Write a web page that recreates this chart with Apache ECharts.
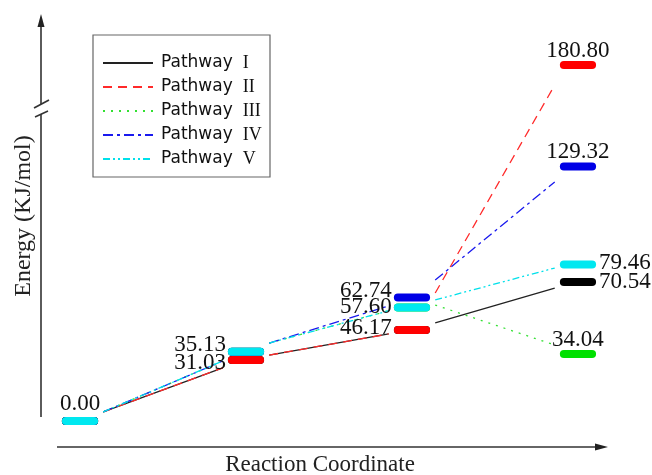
<!DOCTYPE html>
<html>
<head>
    <meta charset="utf-8">
    <script src="https://cdn.jsdelivr.net/npm/echarts@6/dist/echarts.min.js"></script>
    <style>
        html, body { margin: 0; padding: 0; background: #fff; }
        #main { width: 652px; height: 475px; }
    </style>
</head>
<body>
    <div id="main"></div>
    <script>
        // reaction stages (x positions)
        var stages = [0, 1, 2, 3];

        // energy levels of each pathway (KJ/mol)
        var energyI = [0.00, 31.03, 46.17, 70.54];
        var energyII = [0.00, 31.03, 46.17, 180.80];
        var energyIII = [0.00, 35.13, 57.60, 34.04];
        var energyIV = [0.00, 35.13, 62.74, 129.32];
        var energyV = [0.00, 35.13, 57.60, 79.46];

        // connecting lines, [start, end] energy of each step as drawn
        var linkI = [[4.6, 27.0], [33.5, 44.2], [49.8, 67.5]];
        var linkII = [[4.6, 27.0], [33.5, 44.2], [65.0, 170.6]];
        var linkIII = [[4.6, 30.5], [39.6, 56.0], [58.9, 38.6]];
        var linkIV = [[4.6, 30.5], [39.6, 58.5], [71.6, 121.4]];
        var linkV = [[4.6, 30.5], [39.6, 56.0], [61.5, 77.7]];

        var names = ['Pathway I', 'Pathway II', 'Pathway III', 'Pathway IV', 'Pathway V'];
        var numerals = ['I', 'II', 'III', 'IV', 'V'];

        // where each level's number is written: [side, vertical shift px]
        var labI = [null, null, null, ['right', 0]];
        var labII = [null, ['left', 3], ['left', -2], ['top', -14]];
        var labIII = [null, null, null, ['top', -14]];
        var labIV = [null, null, ['left', -7], ['top', -14]];
        var labV = [['top', -17], ['left', -6.5], ['left', -1], ['right', -2]];

        var HW = 0.085;   // half width of a level bar (x units)
        var GAP = 0.14;   // distance of link ends from stage centre

        var paths = [
            { energy: energyI, link: linkI, lab: labI, bar: '#000000', line: '#222222', dash: 'solid' },
            { energy: energyII, link: linkII, lab: labII, bar: '#ff0000', line: '#ff2a2a', dash: [9, 6] },
            { energy: energyIII, link: linkIII, lab: labIII, bar: '#00e000', line: '#33e033', dash: [2, 6] },
            { energy: energyIV, link: linkIV, lab: labIV, bar: '#0000e6', line: '#1a1aee', dash: [10, 4, 3, 4] },
            { energy: energyV, link: linkV, lab: labV, bar: '#00e8f0', line: '#00e0ea', dash: [7, 3, 2, 3, 2, 3] }
        ];

        function renderLevel(color, labels) {
            return function (params, api) {
                var s = api.value(0), v = api.value(1);
                var a = api.coord([s - HW, v]), b = api.coord([s + HW, v]);
                var kids = [{
                    type: 'line',
                    shape: { x1: a[0], y1: a[1], x2: b[0], y2: b[1] },
                    style: { stroke: color, lineWidth: 8, lineCap: 'round' }
                }];
                var lab = labels[params.dataIndex];
                if (lab) {
                    var x, align;
                    if (lab[0] === 'left') { x = a[0] - 6; align = 'right'; }
                    else if (lab[0] === 'right') { x = b[0] + 7; align = 'left'; }
                    else { x = (a[0] + b[0]) / 2; align = 'center'; }
                    kids.push({
                        type: 'text',
                        x: x,
                        y: a[1] + lab[1],
                        style: {
                            text: v.toFixed(2),
                            fontFamily: 'Liberation Serif',
                            fontSize: 23,
                            fill: '#111',
                            align: align,
                            verticalAlign: 'middle'
                        }
                    });
                }
                return { type: 'group', children: kids };
            };
        }

        var series = [];
        paths.forEach(function (p, i) {
            var data = [];
            p.link.forEach(function (seg, k) {
                if (k > 0) data.push([stages[k], '-']);
                data.push([stages[k] + GAP, seg[0]]);
                data.push([stages[k + 1] - GAP, seg[1]]);
            });
            series.push({
                name: names[i],
                type: 'line',
                data: data,
                symbol: 'none',
                connectNulls: false,
                lineStyle: { color: p.line, width: 1.3, type: p.dash },
                itemStyle: { color: p.line },
                z: 2
            });
        });
        paths.forEach(function (p, i) {
            series.push({
                name: names[i] + ' level',
                type: 'custom',
                data: stages.map(function (s, k) { return [s, p.energy[k]]; }),
                renderItem: renderLevel(p.bar, p.lab),
                z: 3 + i
            });
        });

        var myChart = echarts.init(document.getElementById('main'));
        var option = {
            animation: false,
            backgroundColor: '#fff',
            grid: { left: 41, right: 45, top: 15, bottom: 28 },
            xAxis: { type: 'value', min: -0.235, max: 3.175, show: false },
            yAxis: { type: 'value', min: -13.2, max: 206.2, show: false },
            legend: {
                orient: 'vertical',
                left: 102,
                top: 54,
                padding: 0,
                itemWidth: 50,
                itemHeight: 14,
                itemGap: 6,
                z: 6,
                itemStyle: { opacity: 0 },
                data: names,
                formatter: function (name) {
                    return '{a|Pathway}{b|' + numerals[names.indexOf(name)] + '}';
                },
                textStyle: {
                    rich: {
                        a: { fontFamily: 'DejaVu Sans', fontSize: 17, lineHeight: 20, color: '#111', padding: [0, 0, 0, 3] },
                        b: { fontFamily: 'Liberation Serif', fontSize: 18, lineHeight: 20, color: '#111', padding: [0, 0, 0, 10] }
                    }
                }
            },
            graphic: [
                // legend frame
                { type: 'rect', z: 1, shape: { x: 93, y: 35, width: 177, height: 142 }, style: { fill: '#fff', stroke: '#666', lineWidth: 1.2 } },
                // y axis with break and arrow
                { type: 'line', z: 1, shape: { x1: 41, y1: 417, x2: 41, y2: 114 }, style: { stroke: '#333', lineWidth: 1.6 } },
                { type: 'line', z: 1, shape: { x1: 35, y1: 117, x2: 48, y2: 111 }, style: { stroke: '#333', lineWidth: 1.6 } },
                { type: 'line', z: 1, shape: { x1: 34, y1: 108, x2: 49, y2: 100 }, style: { stroke: '#333', lineWidth: 1.6 } },
                { type: 'line', z: 1, shape: { x1: 41, y1: 104, x2: 41, y2: 24 }, style: { stroke: '#333', lineWidth: 1.6 } },
                { type: 'polygon', z: 1, shape: { points: [[41, 14], [37.5, 27], [44.5, 27]] }, style: { fill: '#222' } },
                // x axis with arrow
                { type: 'line', z: 1, shape: { x1: 57, y1: 447, x2: 598, y2: 447 }, style: { stroke: '#333', lineWidth: 1.6 } },
                { type: 'polygon', z: 1, shape: { points: [[608, 447], [595, 443.5], [595, 450.5]] }, style: { fill: '#222' } },
                // axis titles
                {
                    type: 'text', z: 1, x: 24, y: 216, rotation: Math.PI / 2,
                    style: { text: 'Energy (KJ/mol)', fontFamily: 'Liberation Serif', fontSize: 24, fill: '#222', align: 'center', verticalAlign: 'middle' }
                },
                {
                    type: 'text', z: 1, x: 320, y: 465,
                    style: { text: 'Reaction Coordinate', fontFamily: 'Liberation Serif', fontSize: 23, fill: '#222', align: 'center', verticalAlign: 'middle' }
                }
            ],
            series: series
        };
        myChart.setOption(option);
    </script>
</body>
</html>
